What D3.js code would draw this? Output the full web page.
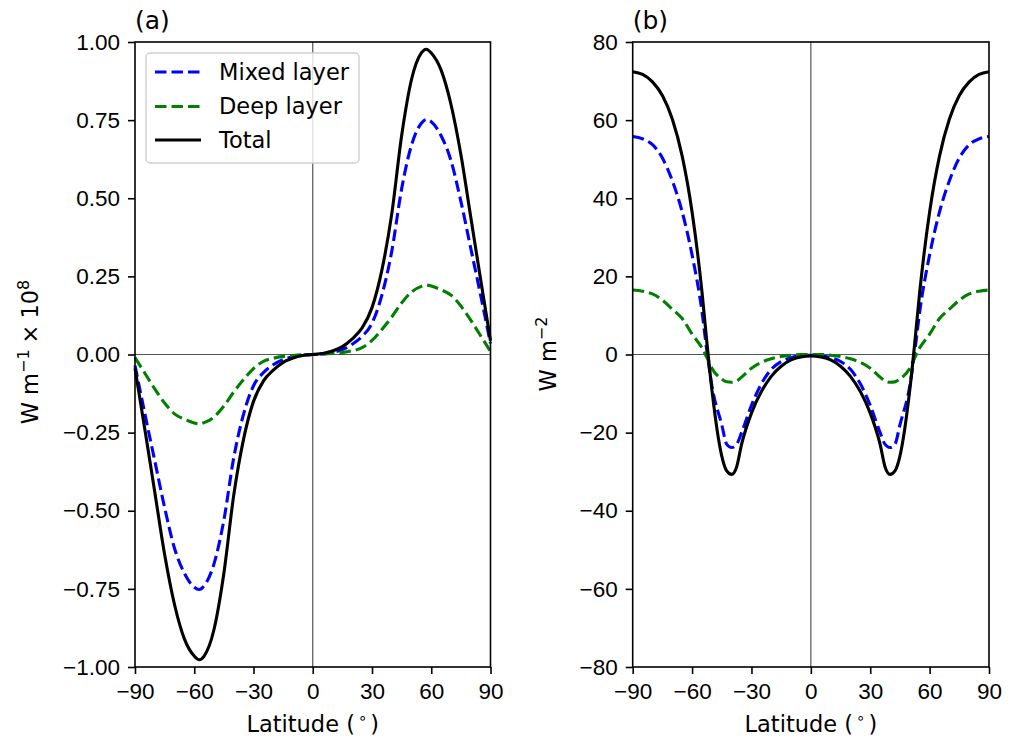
<!DOCTYPE html>
<html>
<head>
<meta charset="utf-8">
<script src="https://cdn.jsdelivr.net/npm/d3@7"></script>
<style>
  body { margin: 0; background: #fff; }
  svg { display: block; font-family: "DejaVu Sans", sans-serif; }
  .tick text { font-size: 22.5px; fill: #000; }
</style>
</head>
<body>
<svg id="chart" width="1027" height="742"></svg>
<script>
// panel (a): transport, panel (b): convergence

var latA = [-90, -85, -80, -75, -70, -65, -60, -57.5, -55, -50, -45, -40, -35, -30, -25, -20, -15, -10, -5, 0,
            5, 10, 15, 20, 25, 30, 35, 40, 45, 50, 55, 57.5, 60, 65, 70, 75, 80, 85, 90];
var mixedA = [-0.035, -0.19, -0.34, -0.49, -0.62, -0.70, -0.745, -0.752, -0.74, -0.67, -0.53, -0.33, -0.19, -0.10, -0.058, -0.033, -0.016, -0.007, -0.002, 0,
              0.002, 0.007, 0.016, 0.033, 0.058, 0.10, 0.19, 0.33, 0.53, 0.67, 0.74, 0.752, 0.745, 0.70, 0.62, 0.49, 0.34, 0.19, 0.035];
var deepA = [-0.01, -0.06, -0.11, -0.155, -0.19, -0.207, -0.219, -0.222, -0.218, -0.20, -0.165, -0.12, -0.08, -0.045, -0.022, -0.012, -0.006, -0.003, -0.001, 0,
             0.001, 0.003, 0.006, 0.012, 0.022, 0.045, 0.08, 0.12, 0.165, 0.20, 0.218, 0.222, 0.219, 0.207, 0.19, 0.155, 0.11, 0.06, 0.01];
var totalA = [-0.044, -0.24, -0.44, -0.64, -0.80, -0.91, -0.965, -0.977, -0.965, -0.88, -0.70, -0.45, -0.27, -0.15, -0.085, -0.05, -0.025, -0.011, -0.003, 0,
              0.003, 0.011, 0.025, 0.05, 0.085, 0.15, 0.27, 0.45, 0.70, 0.88, 0.965, 0.977, 0.965, 0.91, 0.80, 0.64, 0.44, 0.24, 0.044];

var latB = [-90, -85, -80, -75, -70, -65, -60, -55, -52.5, -50, -45, -42.5, -40, -37.5, -35, -30, -25, -20, -15, -10, -5, 0,
            5, 10, 15, 20, 25, 30, 35, 37.5, 40, 42.5, 45, 50, 52.5, 55, 60, 65, 70, 75, 80, 85, 90];
var mixedB = [55.8, 55.2, 53.7, 50.3, 44.5, 36.5, 25.5, 11, 0.8, -8, -18, -23, -23.8, -23, -20, -13, -7.5, -3.8, -1.8, -0.8, -0.3, -0.2,
              -0.3, -0.8, -1.8, -3.8, -7.5, -13, -20, -23, -23.8, -23, -18, -8, 0.8, 11, 25.5, 36.5, 44.5, 50.3, 53.7, 55.2, 55.8];
var deepB = [16.5, 16.2, 15.5, 13.9, 11.6, 9.2, 5.2, 1.7, -0.8, -3.5, -6.3, -7, -7.1, -6.8, -5.8, -3.5, -2, -1.1, -0.5, -0.2, 0, 0,
             0, -0.2, -0.5, -1.1, -2, -3.5, -5.8, -6.8, -7.1, -7, -6.3, -3.5, -0.8, 1.7, 5.2, 9.2, 11.6, 13.9, 15.5, 16.2, 16.5];
var totalB = [72.4, 71.7, 69.8, 66.3, 60.3, 50.8, 36.5, 16, 3, -9, -26, -29.8, -30.7, -28.8, -23, -15, -9.5, -5.6, -3, -1.4, -0.6, -0.4,
              -0.6, -1.4, -3, -5.6, -9.5, -15, -23, -28.8, -30.7, -29.8, -26, -9, 3, 16, 36.5, 50.8, 60.3, 66.3, 69.8, 71.7, 72.4];

var xTicks = [-90, -60, -30, 0, 30, 60, 90];
var yTicksA = [-1, -0.75, -0.5, -0.25, 0, 0.25, 0.5, 0.75, 1];
var yTicksB = [-80, -60, -40, -20, 0, 20, 40, 60, 80];

var seriesNames = ["Mixed layer", "Deep layer", "Total"];
var seriesColors = ["#0000ff", "#008000", "#000000"];
var seriesDash = ["11.5,5", "11.5,5", null];

var svg = d3.select("#chart");
var plotTop = 42, plotBottom = 667;

function panel(opts) {
  var x = d3.scaleLinear().domain([-90, 90]).range([opts.left, opts.right]);
  var y = d3.scaleLinear().domain(opts.yDomain).range([plotBottom, plotTop]);
  var g = svg.append("g");

  // zero lines
  g.append("line")
    .attr("x1", x(-90)).attr("x2", x(90))
    .attr("y1", y(0)).attr("y2", y(0))
    .attr("stroke", "#555").attr("stroke-width", 1.2);
  g.append("line")
    .attr("x1", x(0)).attr("x2", x(0))
    .attr("y1", plotTop).attr("y2", plotBottom)
    .attr("stroke", "#555").attr("stroke-width", 1.2);

  var line = d3.line().curve(d3.curveMonotoneX);
  var all = [opts.mixed, opts.deep, opts.total];
  all.forEach(function (vals, i) {
    var pts = opts.lat.map(function (l, k) { return [x(l), y(vals[k])]; });
    g.append("path")
      .attr("d", line(pts))
      .attr("fill", "none")
      .attr("stroke", seriesColors[i])
      .attr("stroke-width", 3.1)
      .attr("stroke-dasharray", seriesDash[i]);
  });

  // axes
  var xAxis = d3.axisBottom(x).tickValues(xTicks).tickSize(7).tickPadding(8)
    .tickFormat(d3.format("d"));
  var yAxis = d3.axisLeft(y).tickValues(opts.yTicks).tickSize(7).tickPadding(8)
    .tickFormat(d3.format(opts.fmt));
  var gx = g.append("g").attr("transform", "translate(0," + plotBottom + ")").call(xAxis);
  var gy = g.append("g").attr("transform", "translate(" + opts.left + ",0)").call(yAxis);
  gx.select(".domain").remove();
  gy.select(".domain").remove();
  g.selectAll(".tick line").attr("stroke", "#000").attr("stroke-width", 1.6);
  gx.selectAll(".tick text").attr("dy", "0.75em");

  // frame
  g.append("rect")
    .attr("x", opts.left).attr("y", plotTop)
    .attr("width", opts.right - opts.left).attr("height", plotBottom - plotTop)
    .attr("fill", "none").attr("stroke", "#000").attr("stroke-width", 1.6);

  // panel letter
  g.append("text")
    .attr("x", opts.left).attr("y", 29)
    .attr("font-size", 25)
    .text(opts.title);

  // x label
  var xl = g.append("text")
    .attr("x", x(0)).attr("y", 732)
    .attr("text-anchor", "middle")
    .attr("font-size", 22.5);
  xl.append("tspan").text("Latitude (");
  xl.append("tspan").attr("dx", 3).attr("dy", -9).attr("font-size", 15).text("\u2218");
  xl.append("tspan").attr("dx", 3).attr("dy", 9).text(")");

  return {x: x, y: y, g: g};
}

panel({
  left: 135, right: 490.5, yDomain: [-1, 1], yTicks: yTicksA, fmt: ".2f",
  lat: latA, mixed: mixedA, deep: deepA, total: totalA, title: "(a)"
});
panel({
  left: 632.7, right: 989, yDomain: [-80, 80], yTicks: yTicksB, fmt: "d",
  lat: latB, mixed: mixedB, deep: deepB, total: totalB, title: "(b)"
});

// y labels
var yla = svg.append("text")
  .attr("transform", "translate(38,352) rotate(-90)")
  .attr("text-anchor", "middle")
  .attr("font-size", 22.5);
yla.append("tspan").text("W m");
yla.append("tspan").attr("dy", -9).attr("font-size", 16).text("\u22121");
yla.append("tspan").attr("dy", 9).attr("dx", 6).text("\u00d7");
yla.append("tspan").attr("dx", 6).text("10");
yla.append("tspan").attr("dy", -9).attr("font-size", 16).text("8");

var ylb = svg.append("text")
  .attr("transform", "translate(556,354) rotate(-90)")
  .attr("text-anchor", "middle")
  .attr("font-size", 22.5);
ylb.append("tspan").text("W m");
ylb.append("tspan").attr("dy", -9).attr("font-size", 16).text("\u22122");

// legend in panel (a)
var leg = svg.append("g");
leg.append("rect")
  .attr("x", 146).attr("y", 53).attr("width", 213).attr("height", 110)
  .attr("rx", 4).attr("ry", 4)
  .attr("fill", "#fff").attr("fill-opacity", 0.8)
  .attr("stroke", "#d0d0d0").attr("stroke-width", 1.4);
var legY = [72, 106.5, 140];
seriesNames.forEach(function (name, i) {
  leg.append("line")
    .attr("x1", 155).attr("x2", 201)
    .attr("y1", legY[i]).attr("y2", legY[i])
    .attr("stroke", seriesColors[i]).attr("stroke-width", 3.1)
    .attr("stroke-dasharray", seriesDash[i]);
  leg.append("text")
    .attr("x", 219).attr("y", legY[i]).attr("dy", "0.35em")
    .attr("font-size", 22.5)
    .text(name);
});
</script>
</body>
</html>
